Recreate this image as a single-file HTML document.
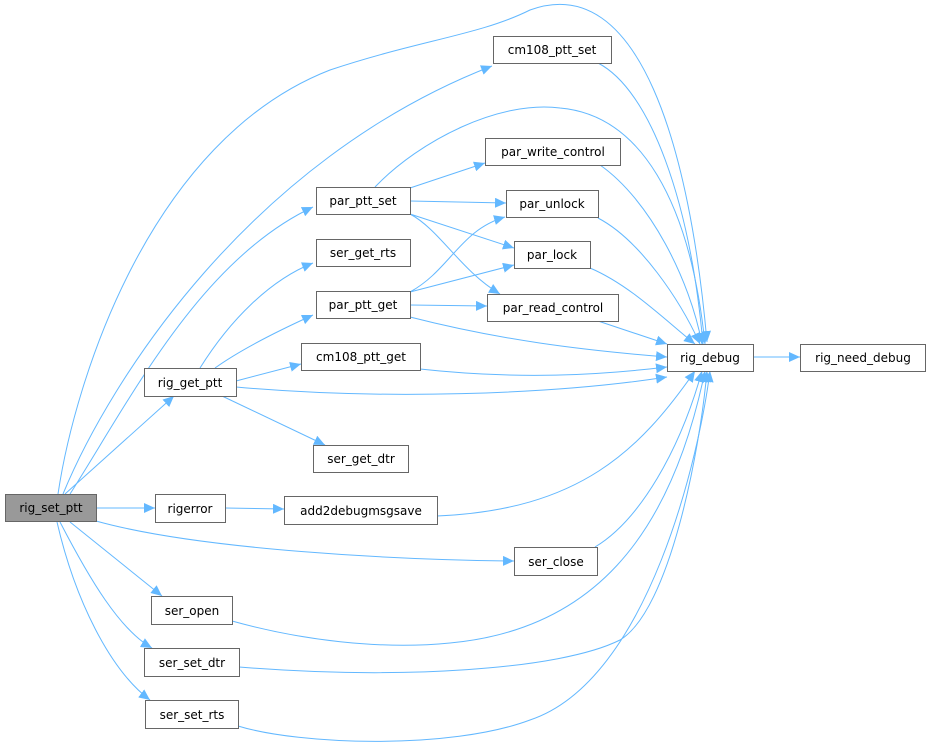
<!DOCTYPE html>
<html><head><style>
html,body{margin:0;padding:0;background:#fff;}
svg text{font-family:"DejaVu Sans","Liberation Sans",sans-serif;font-size:12px;fill:#000;}
</style></head><body>
<svg width="931" height="749" viewBox="0 0 931 749" xmlns="http://www.w3.org/2000/svg">
<defs>
<marker id="a" markerUnits="userSpaceOnUse" markerWidth="12" markerHeight="10" refX="11" refY="5" orient="auto">
<path d="M0,0 L11,5 L0,10 Z" fill="#63b8ff"/>
</marker>
</defs>
<g fill="none" stroke="#63b8ff" stroke-width="1" marker-end="url(#a)">
<path d="M58,494 C75,380 150,140 330,70 C420,40 480,35 530,10 C640,-30 690,150 707,342"/>
<path d="M63,494 C110,380 250,160 492,66"/>
<path d="M70,494 C130,400 200,260 313,207"/>
<path d="M65,494 L174,396"/>
<path d="M96,508 L155,508"/>
<path d="M96,521 C200,550 400,560 514,561"/>
<path d="M70,522 L162,596"/>
<path d="M60,522 C90,580 120,630 152,648"/>
<path d="M57,522 C75,600 110,670 150,700"/>
<path d="M200,368 C230,320 270,280 313,263"/>
<path d="M215,368 C240,350 280,330 313,315"/>
<path d="M236,381 L301,364"/>
<path d="M236,387 C380,400 550,395 667,377"/>
<path d="M222,396 L325,445"/>
<path d="M225,508 L284,509"/>
<path d="M437,516 C580,510 640,450 695,371"/>
<path d="M410,188 L485,163"/>
<path d="M410,201 L506,203"/>
<path d="M410,214 L514,248"/>
<path d="M410,214 C440,230 460,270 500,294"/>
<path d="M375,187 C420,140 500,100 560,108 C640,115 690,200 705,344"/>
<path d="M410,292 C450,270 460,230 505,217"/>
<path d="M410,292 L514,265"/>
<path d="M410,305 L487,306"/>
<path d="M410,317 C500,340 580,350 667,357"/>
<path d="M420,369 C520,380 600,375 667,367"/>
<path d="M598,63 C650,90 690,200 703,344"/>
<path d="M600,165 C650,200 690,280 702,344"/>
<path d="M598,218 C640,240 680,300 700,344"/>
<path d="M590,268 C630,285 665,320 695,344"/>
<path d="M598,321 L667,344"/>
<path d="M753,357 L800,357"/>
<path d="M595,547 C640,520 680,450 702,371"/>
<path d="M232,621 C300,640 380,650 450,643 C590,630 670,540 705,371"/>
<path d="M239,667 C400,680 560,670 620,640 C670,610 700,450 707,371"/>
<path d="M238,726 C300,745 450,750 530,720 C650,680 700,450 710,371"/>
</g>
<g stroke="#666" stroke-width="1" fill="#fff">
<rect x="5.5" y="494.5" width="91" height="27" fill="#999"/>
<rect x="493.5" y="36.5" width="118" height="27"/>
<rect x="485.5" y="138.5" width="135" height="27"/>
<rect x="316.5" y="187.5" width="94" height="27"/>
<rect x="506.5" y="190.5" width="92" height="27"/>
<rect x="316.5" y="239.5" width="94" height="27"/>
<rect x="514.5" y="241.5" width="76" height="27"/>
<rect x="316.5" y="291.5" width="94" height="27"/>
<rect x="487.5" y="294.5" width="131" height="27"/>
<rect x="301.5" y="343.5" width="119" height="27"/>
<rect x="667.5" y="344.5" width="86" height="27"/>
<rect x="800.5" y="344.5" width="125" height="27"/>
<rect x="144.5" y="368.5" width="92" height="28"/>
<rect x="313.5" y="445.5" width="95" height="27"/>
<rect x="155.5" y="494.5" width="70" height="28"/>
<rect x="284.5" y="496.5" width="153" height="28"/>
<rect x="514.5" y="547.5" width="83" height="28"/>
<rect x="151.5" y="596.5" width="81" height="28"/>
<rect x="144.5" y="648.5" width="95" height="28"/>
<rect x="145.5" y="700.5" width="93" height="28"/>
</g>
<g text-anchor="middle">
<text x="51" y="512">rig_set_ptt</text>
<text x="552" y="54">cm108_ptt_set</text>
<text x="553" y="156">par_write_control</text>
<text x="363" y="205">par_ptt_set</text>
<text x="552" y="208">par_unlock</text>
<text x="363" y="257">ser_get_rts</text>
<text x="552" y="259">par_lock</text>
<text x="363" y="309">par_ptt_get</text>
<text x="553" y="312">par_read_control</text>
<text x="361" y="361">cm108_ptt_get</text>
<text x="710" y="362">rig_debug</text>
<text x="863" y="362">rig_need_debug</text>
<text x="190" y="387">rig_get_ptt</text>
<text x="361" y="463">ser_get_dtr</text>
<text x="190" y="513">rigerror</text>
<text x="361" y="515">add2debugmsgsave</text>
<text x="556" y="566">ser_close</text>
<text x="192" y="615">ser_open</text>
<text x="192" y="667">ser_set_dtr</text>
<text x="192" y="719">ser_set_rts</text>
</g>
</svg>
</body></html>
